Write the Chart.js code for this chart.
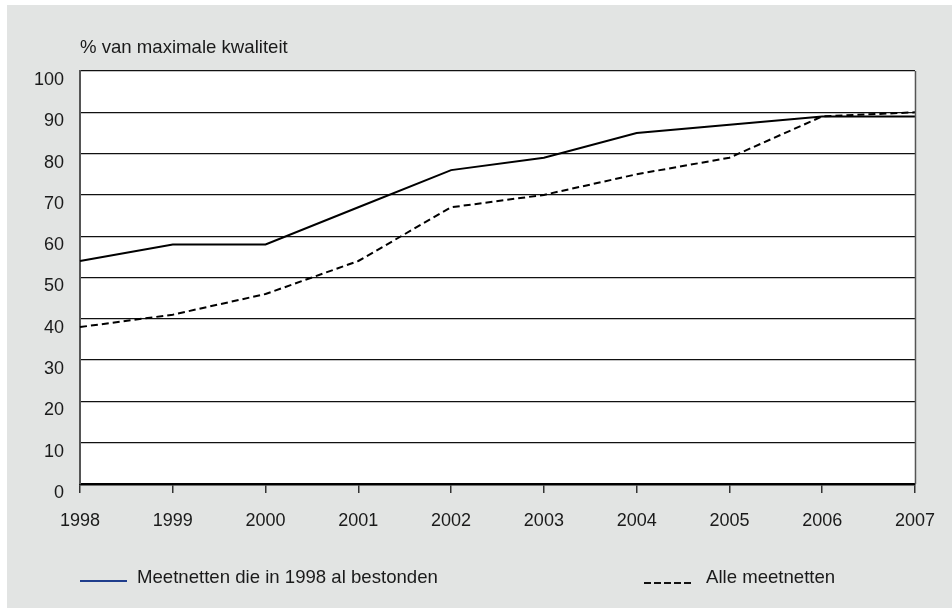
<!DOCTYPE html>
<html>
<head>
<meta charset="utf-8">
<script src="https://cdn.jsdelivr.net/npm/chart.js@4/dist/chart.umd.min.js"></script>
<style>
  html, body { margin: 0; padding: 0; background: #ffffff; }
  #wrap { width: 952px; height: 610px; }
</style>
</head>
<body>
<div id="wrap"><canvas id="c" width="952" height="610"></canvas></div>
<script>
// Jaren en kwaliteitsscores (% van maximale kwaliteit)
const years = ['1998', '1999', '2000', '2001', '2002', '2003', '2004', '2005', '2006', '2007'];
const bestaandeMeetnetten = [54, 58, 58, 67, 76, 79, 85, 87, 89, 89];
const alleMeetnetten = [38, 41, 46, 54, 67, 70, 75, 79, 89, 90];
const seriesLabels = ['Meetnetten die in 1998 al bestonden', 'Alle meetnetten'];
const axisTitle = '% van maximale kwaliteit';

const FONT = '"Liberation Sans", Arial, sans-serif';
const TEXT = '#1a1a1a';

// Grey panel, white plot area, axis title and legend
const decor = {
  id: 'decor',
  beforeDraw(chart) {
    const { ctx, chartArea: a } = chart;
    ctx.save();
    ctx.fillStyle = '#e2e4e3';
    ctx.fillRect(7, 5, 945, 603);
    ctx.fillStyle = '#ffffff';
    ctx.fillRect(a.left, a.top, a.right - a.left, a.bottom - a.top);
    ctx.restore();
  },
  afterDraw(chart) {
    const { ctx, chartArea: a } = chart;
    ctx.save();
    // right frame line
    ctx.strokeStyle = '#555555';
    ctx.lineWidth = 1.5;
    ctx.beginPath();
    ctx.moveTo(a.right + 0.5, a.top);
    ctx.lineTo(a.right + 0.5, a.bottom);
    ctx.stroke();

    ctx.font = '18.6px ' + FONT;
    ctx.fillStyle = TEXT;
    ctx.textBaseline = 'middle';
    ctx.textAlign = 'left';
    ctx.fillText(axisTitle, a.left, 48);

    // legend: solid series
    ctx.strokeStyle = '#1f3d8c';
    ctx.lineWidth = 2.2;
    ctx.setLineDash([]);
    ctx.beginPath();
    ctx.moveTo(80, 581);
    ctx.lineTo(127, 581);
    ctx.stroke();
    ctx.fillText(seriesLabels[0], 137, 578);

    // legend: dashed series
    ctx.strokeStyle = '#111111';
    ctx.lineWidth = 2.2;
    ctx.setLineDash([7, 3]);
    ctx.beginPath();
    ctx.moveTo(644, 583);
    ctx.lineTo(692, 583);
    ctx.stroke();
    ctx.setLineDash([]);
    ctx.fillText(seriesLabels[1], 706, 578);
    ctx.restore();
  }
};

new Chart(document.getElementById('c'), {
  type: 'line',
  data: {
    labels: years,
    datasets: [
      {
        label: seriesLabels[0],
        data: bestaandeMeetnetten,
        borderColor: '#000000',
        borderWidth: 2,
        pointRadius: 0,
        tension: 0,
        fill: false
      },
      {
        label: seriesLabels[1],
        data: alleMeetnetten,
        borderColor: '#000000',
        borderWidth: 2,
        borderDash: [7, 4],
        pointRadius: 0,
        tension: 0,
        fill: false
      }
    ]
  },
  options: {
    responsive: false,
    animation: false,
    devicePixelRatio: 1,
    layout: { padding: { left: 0, right: 37, top: 71, bottom: 66 } },
    plugins: {
      legend: { display: false },
      tooltip: { enabled: false },
      title: { display: false }
    },
    scales: {
      x: {
        type: 'category',
        offset: false,
        afterFit(scale) { scale.height = 60; },
        grid: {
          drawOnChartArea: false,
          drawTicks: true,
          tickLength: 9,
          tickColor: '#333333',
          lineWidth: 1.5
        },
        border: { display: true, color: '#000000', width: 2.5 },
        ticks: {
          color: TEXT,
          font: { family: FONT, size: 18 },
          padding: 17,
          maxRotation: 0,
          autoSkip: false
        }
      },
      y: {
        min: 0,
        max: 100,
        afterFit(scale) { scale.width = 80; },
        grid: {
          color: '#111111',
          lineWidth: 1.3,
          drawTicks: false
        },
        border: { display: true, color: '#555555', width: 2 },
        ticks: {
          stepSize: 10,
          color: TEXT,
          font: { family: FONT, size: 18 },
          padding: 16,
          labelOffset: 9
        }
      }
    }
  },
  plugins: [decor]
});
</script>
</body>
</html>
